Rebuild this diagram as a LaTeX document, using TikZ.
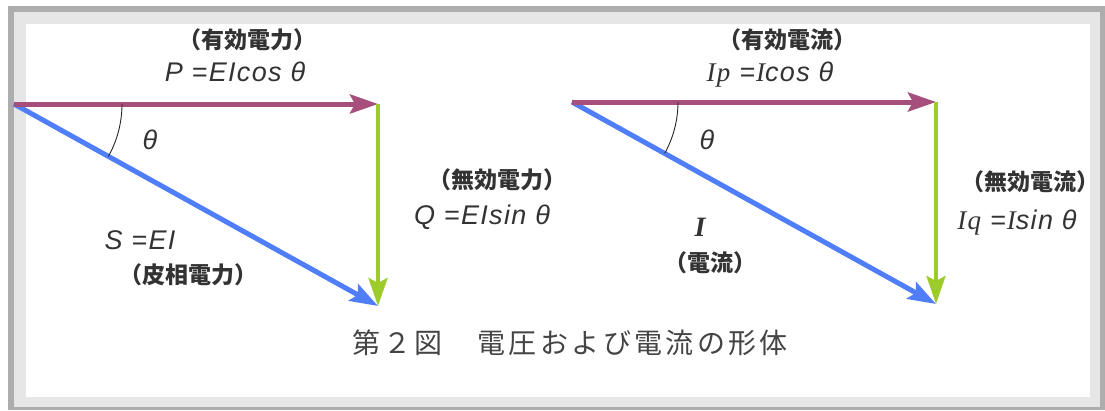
\documentclass[tikz,border=0pt]{standalone}
\usepackage{fontspec}
\setmainfont{Liberation Serif}
\newfontfamily\cjk{Noto Sans CJK JP}
\newfontfamily\cjkcap[LetterSpace=12]{Noto Sans CJK JP}
\newfontfamily\lsans[LetterSpace=5]{Liberation Sans}
\newfontfamily\lserif[LetterSpace=5]{Liberation Serif}
\usetikzlibrary{arrows.meta}
\definecolor{framedark}{HTML}{ADADAD}
\definecolor{framelight}{HTML}{E6E6E6}
\definecolor{pcol}{HTML}{A64F7C}
\definecolor{qcol}{HTML}{9CCB2C}
\definecolor{scol}{HTML}{4F7EF8}
\definecolor{textgray}{HTML}{333333}
\definecolor{capgray}{HTML}{444444}
\tikzset{
  vec/.style={line width=#1, -{Stealth[length=28pt,width=19pt,inset=5pt]}},
  lab/.style={text=textgray, font=\cjk\bfseries\fontsize{23}{26}\selectfont, inner sep=0pt},
  fml/.style={text=textgray, font=\lsans\itshape\fontsize{27}{30}\selectfont, inner sep=0pt},
  angarc/.style={draw=black!85, line width=0.9pt},
}
\begin{document}
\begin{tikzpicture}[x=1pt,y=-1pt]
\useasboundingbox (0,0) rectangle (1105,410);
\fill[white] (0,0) rectangle (1105,410);
% frame
\fill[framedark] (8,6) rectangle (1105,410);
\fill[framelight] (14,12) rectangle (1100,407);
\fill[white] (26,24) rectangle (1090,397);

% left diagram
\coordinate (O1) at (14,104);
\coordinate (A1) at (378,104);
\coordinate (B1) at (378,306);
\draw[scol, vec=5pt] (O1) -- (B1);
\draw[pcol, vec=5pt] (O1) -- (A1);
\draw[qcol, vec=4pt] (A1) -- (B1);
\draw[angarc] (O1) ++(0:108) arc[start angle=0, end angle=29, radius=108];

\node[lab] (l1) at (247,40) {（有効電力）};
\node[fml] (l2) at (235,72) {P =EIcos θ};
\node[fml] (l3) at (150,140) {θ};
\node[lab] (l4) at (497,180) {（無効電力）};
\node[fml] (l5) at (482,217) {Q =EIsin θ};
\node[fml] (l6) at (140,240) {S =EI};
\node[lab] (l7) at (188,275) {（皮相電力）};

% right diagram
\coordinate (O2) at (572,102);
\coordinate (A2) at (936,102);
\coordinate (B2) at (936,304);
\draw[scol, vec=5pt] (O2) -- (B2);
\draw[pcol, vec=5pt] (O2) -- (A2);
\draw[qcol, vec=4pt] (A2) -- (B2);
\draw[angarc] (O2) ++(0:106) arc[start angle=0, end angle=29, radius=106];

\node[lab] (r1) at (787,40) {（有効電流）};
\node[fml] (r2) at (770,75) {{\lserif Ip} =\kern1pt{\lserif I}cos θ};
\node[fml] (r3) at (707,140) {θ};
\node[lab] (r4) at (1030,182) {（無効電流）};
\node[fml] (r5) at (1017,223) {{\lserif Iq} =\kern1pt{\lserif I}sin θ};
\node[fml, font=\lserif\itshape\bfseries\fontsize{28}{30}\selectfont] (r6) at (700,227) {I};
\node[lab] (r7) at (710,263) {（電流）};

% caption
\node[text=capgray, font=\cjkcap\fontsize{28}{32}\selectfont, inner sep=0pt] (cap) at (570,343) {第２図　電圧および電流の形体};
\end{tikzpicture}
\end{document}
